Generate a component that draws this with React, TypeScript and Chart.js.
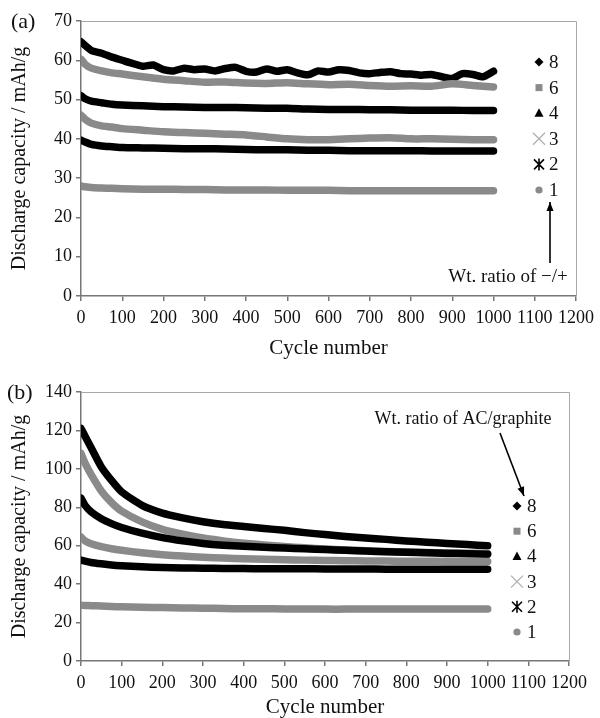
import React, { useEffect, useRef } from 'react';
import Chart from 'chart.js/auto';

// ---------- DATA ----------
const CYCLES = [0, 10, 25, 50, 75, 100, 150, 200, 250, 300, 350, 400, 450, 500, 550, 600, 650, 700, 750, 800, 850, 900, 950, 1000];
const CYCLES_FINE = [0, 25, 50, 75, 100, 125, 150, 175, 200, 225, 250, 275, 300, 325, 350, 375, 400, 425, 450, 475, 500, 525, 550, 575, 600, 625, 650, 675, 700, 725, 750, 775, 800, 825, 850, 875, 900, 925, 950, 975, 1000];

const LEGEND_LABELS = ['8', '6', '4', '3', '2', '1'];

// Panel (a): wt. ratio of -/+
const A_S8 = [64.7, 62.5, 61.8, 60.8, 60.0, 59.2, 58.5, 58.8, 57.6, 57.3, 58.0, 57.6, 57.8, 57.3, 57.9, 58.2, 57.2, 57.0, 57.8, 57.2, 57.6, 56.8, 56.3, 57.3, 57.0, 57.6, 57.4, 56.8, 56.6, 56.9, 57.1, 56.6, 56.5, 56.2, 56.4, 55.8, 55.4, 56.6, 56.4, 55.8, 57.2];
const A_S6 = [60.3, 59.0, 58.0, 57.3, 56.8, 56.5, 55.8, 55.2, 54.8, 54.4, 54.5, 54.2, 54.1, 54.3, 54.0, 53.8, 53.9, 53.6, 53.4, 53.5, 53.4, 54.0, 53.6, 53.2];
const A_S4 = [51.0, 50.2, 49.6, 49.2, 48.8, 48.6, 48.4, 48.2, 48.1, 48.0, 48.0, 47.9, 47.8, 47.8, 47.6, 47.5, 47.5, 47.4, 47.4, 47.3, 47.3, 47.3, 47.2, 47.2];
const A_S3 = [46.0, 45.0, 44.0, 43.3, 43.0, 42.6, 42.2, 41.8, 41.6, 41.4, 41.2, 41.0, 40.5, 40.0, 39.8, 39.8, 40.0, 40.2, 40.3, 40.0, 40.0, 39.9, 39.8, 39.8];
const A_S2 = [39.7, 39.2, 38.6, 38.2, 38.0, 37.8, 37.7, 37.6, 37.5, 37.5, 37.4, 37.3, 37.2, 37.2, 37.1, 37.1, 37.0, 37.0, 37.0, 37.0, 36.9, 36.9, 36.9, 36.9];
const A_S1 = [28.0, 27.8, 27.6, 27.5, 27.4, 27.3, 27.2, 27.2, 27.1, 27.1, 27.0, 27.0, 27.0, 26.9, 26.9, 26.9, 26.8, 26.8, 26.8, 26.8, 26.8, 26.8, 26.8, 26.8];

// Panel (b): wt. ratio of AC/graphite
const B_S8 = [121.0, 117.0, 111.0, 101.0, 94.0, 88.0, 81.0, 77.0, 74.5, 72.5, 71.0, 70.0, 69.0, 68.0, 66.8, 65.8, 64.8, 64.0, 63.3, 62.5, 61.8, 61.2, 60.6, 60.0];
const B_S6 = [108.0, 103.0, 97.0, 88.5, 82.5, 78.0, 72.4, 68.5, 66.0, 64.0, 62.5, 61.3, 60.4, 59.6, 58.9, 58.3, 57.8, 57.4, 57.0, 56.7, 56.5, 56.3, 56.1, 56.0];
const B_S4 = [84.8, 81.0, 77.6, 74.0, 71.5, 69.5, 66.5, 64.2, 62.5, 61.2, 60.3, 59.7, 59.2, 58.8, 58.4, 58.0, 57.6, 57.2, 56.9, 56.6, 56.3, 56.0, 55.8, 55.6];
const B_S3 = [64.5, 62.5, 61.0, 59.5, 58.4, 57.6, 56.3, 55.3, 54.6, 54.0, 53.6, 53.2, 52.9, 52.7, 52.5, 52.3, 52.2, 52.1, 52.0, 51.9, 51.9, 51.8, 51.8, 51.8];
const B_S2 = [52.5, 52.0, 51.3, 50.6, 50.0, 49.6, 49.0, 48.6, 48.4, 48.3, 48.2, 48.1, 48.0, 48.0, 48.0, 47.9, 47.9, 47.9, 47.8, 47.8, 47.8, 47.8, 47.8, 47.8];
const B_S1 = [29.0, 28.9, 28.8, 28.6, 28.4, 28.2, 28.0, 27.8, 27.6, 27.5, 27.3, 27.2, 27.2, 27.1, 27.1, 27.0, 27.0, 27.0, 27.0, 27.0, 27.0, 27.0, 27.0, 27.0];

// ---------- STYLE ----------
const BLACK = '#000000';
const GREY = '#8a8a8a';
const LIGHT = '#b0b0b0';
const SERIF = '"Liberation Serif", "Times New Roman", serif';
const SERIES_COLORS = [BLACK, GREY, BLACK, GREY, BLACK, GREY];
const MARKERS = ['diamond', 'square', 'triangle', 'cross', 'star', 'circle'];

function drawMarker(ctx: CanvasRenderingContext2D, kind: string, x: number, y: number) {
  ctx.save();
  ctx.beginPath();
  if (kind === 'diamond') {
    ctx.fillStyle = BLACK;
    ctx.moveTo(x, y - 4.5); ctx.lineTo(x + 4.5, y); ctx.lineTo(x, y + 4.5); ctx.lineTo(x - 4.5, y); ctx.closePath(); ctx.fill();
  } else if (kind === 'square') {
    ctx.fillStyle = GREY;
    ctx.fillRect(x - 3.5, y - 3.5, 7, 7);
  } else if (kind === 'triangle') {
    ctx.fillStyle = BLACK;
    ctx.moveTo(x, y - 5); ctx.lineTo(x + 4.5, y + 3.5); ctx.lineTo(x - 4.5, y + 3.5); ctx.closePath(); ctx.fill();
  } else if (kind === 'cross') {
    ctx.strokeStyle = LIGHT; ctx.lineWidth = 1.3;
    ctx.moveTo(x - 6, y - 6); ctx.lineTo(x + 6, y + 6); ctx.moveTo(x + 6, y - 6); ctx.lineTo(x - 6, y + 6); ctx.stroke();
  } else if (kind === 'star') {
    ctx.strokeStyle = BLACK; ctx.lineWidth = 1.6;
    ctx.moveTo(x - 5, y - 5); ctx.lineTo(x + 5, y + 5); ctx.moveTo(x + 5, y - 5); ctx.lineTo(x - 5, y + 5);
    ctx.moveTo(x, y - 6); ctx.lineTo(x, y + 6); ctx.stroke();
  } else {
    ctx.fillStyle = GREY;
    ctx.arc(x, y, 3.6, 0, Math.PI * 2); ctx.fill();
  }
  ctx.restore();
}

function drawArrow(ctx: CanvasRenderingContext2D, x1: number, y1: number, x2: number, y2: number) {
  ctx.save();
  ctx.strokeStyle = BLACK; ctx.fillStyle = BLACK; ctx.lineWidth = 1.6;
  ctx.beginPath(); ctx.moveTo(x1, y1); ctx.lineTo(x2, y2); ctx.stroke();
  const a = Math.atan2(y2 - y1, x2 - x1);
  const L = 9, W = 3.5;
  ctx.beginPath();
  ctx.moveTo(x2, y2);
  ctx.lineTo(x2 - L * Math.cos(a) + W * Math.sin(a), y2 - L * Math.sin(a) - W * Math.cos(a));
  ctx.lineTo(x2 - L * Math.cos(a) - W * Math.sin(a), y2 - L * Math.sin(a) + W * Math.cos(a));
  ctx.closePath(); ctx.fill();
  ctx.restore();
}

type PanelCfg = {
  height: number;
  plotTop: number;
  plotRight: number;
  plotBottom: number;
  yMax: number;
  yStep: number;
  series: { x: number[]; y: number[] }[];
  panelLabel: string;
  panelLabelX: number;
  legendMarkerX: number;
  legendTextX: number;
  legendY0: number;
  legendDy: number;
  note: string;
  noteX: number;
  noteY: number;
  noteSize: number;
  arrow: [number, number, number, number];
};

function Panel({ cfg, top }: { cfg: PanelCfg; top: number }) {
  const ref = useRef<HTMLCanvasElement | null>(null);
  useEffect(() => {
    if (!ref.current) return;
    const decor = {
      id: 'decor',
      afterDraw(chart: any) {
        const ctx: CanvasRenderingContext2D = chart.ctx;
        const { left, top: t, right, bottom } = chart.chartArea;
        ctx.save();
        ctx.strokeStyle = '#a8a8a8'; ctx.lineWidth = 1;
        ctx.beginPath(); ctx.moveTo(left, t + 0.5); ctx.lineTo(right + 0.5, t + 0.5); ctx.lineTo(right + 0.5, bottom); ctx.stroke();
        ctx.fillStyle = '#111'; ctx.font = `22px ${SERIF}`; ctx.textBaseline = 'middle'; ctx.textAlign = 'left';
        ctx.fillText(cfg.panelLabel, cfg.panelLabelX, t + 1);
        ctx.font = `19px ${SERIF}`;
        LEGEND_LABELS.forEach((lab, i) => {
          const y = cfg.legendY0 + i * cfg.legendDy;
          drawMarker(ctx, MARKERS[i], cfg.legendMarkerX, y);
          ctx.fillStyle = '#111';
          ctx.fillText(lab, cfg.legendTextX, y + 1);
        });
        ctx.font = `${cfg.noteSize}px ${SERIF}`; ctx.textAlign = 'center';
        ctx.fillText(cfg.note, cfg.noteX, cfg.noteY);
        const [x1, y1, x2, y2] = cfg.arrow;
        drawArrow(ctx, x1, y1, x2, y2);
        ctx.restore();
      },
    };
    const datasets = cfg.series.map((s, i) => ({
      label: LEGEND_LABELS[i],
      data: s.x.map((x, j) => ({ x, y: s.y[j] })),
      borderColor: SERIES_COLORS[i],
      backgroundColor: SERIES_COLORS[i],
      borderWidth: 7.5,
      pointRadius: 0,
      tension: 0.2,
      borderJoinStyle: 'round' as const,
      borderCapStyle: 'round' as const,
      order: 5 - i,
    }));
    const chart = new Chart(ref.current, {
      type: 'line',
      data: { datasets },
      options: {
        animation: false,
        responsive: false,
        maintainAspectRatio: false,
        layout: { padding: { left: 0, top: cfg.plotTop, right: 600 - cfg.plotRight, bottom: 0 } },
        plugins: { legend: { display: false }, tooltip: { enabled: false } },
        scales: {
          x: {
            type: 'linear', min: 0, max: 1200,
            afterFit: (s: any) => { s.height = cfg.height - cfg.plotBottom; },
            ticks: { stepSize: 100, color: '#111', font: { family: SERIF, size: 18 }, padding: 6, maxRotation: 0, autoSkip: false, callback: (v: any) => String(v) },
            grid: { display: true, drawOnChartArea: false, drawTicks: true, tickLength: 5, color: '#777', lineWidth: 1.5 },
            border: { display: true, color: '#777', width: 1.5 },
            title: { display: true, text: 'Cycle number', color: '#111', font: { family: SERIF, size: 21, lineHeight: 1 }, padding: { top: 0, bottom: 0 } },
          },
          y: {
            type: 'linear', min: 0, max: cfg.yMax,
            afterFit: (s: any) => { s.width = 81; },
            ticks: { stepSize: cfg.yStep, color: '#111', font: { family: SERIF, size: 18 }, padding: 4, callback: (v: any) => String(v) },
            grid: { display: true, drawOnChartArea: false, drawTicks: true, tickLength: 5, color: '#777', lineWidth: 1.5 },
            border: { display: true, color: '#777', width: 1.5 },
            title: { display: true, text: 'Discharge capacity / mAh/g', color: '#111', font: { family: SERIF, size: 20, lineHeight: 1 }, padding: { top: 10, bottom: 0 } },
          },
        },
      },
      plugins: [decor],
    } as any);
    return () => chart.destroy();
  }, [cfg]);
  return (
    <canvas
      ref={ref}
      width={600}
      height={cfg.height}
      style={{ position: 'absolute', left: 0, top, width: 600, height: cfg.height, display: 'block' }}
    />
  );
}

const PANEL_A: PanelCfg = {
  height: 359,
  plotTop: 21,
  plotRight: 578,
  plotBottom: 296,
  yMax: 70,
  yStep: 10,
  series: [
    { x: CYCLES_FINE, y: A_S8 },
    { x: CYCLES, y: A_S6 },
    { x: CYCLES, y: A_S4 },
    { x: CYCLES, y: A_S3 },
    { x: CYCLES, y: A_S2 },
    { x: CYCLES, y: A_S1 },
  ],
  panelLabel: '(a)',
  panelLabelX: 11,
  legendMarkerX: 539,
  legendTextX: 549,
  legendY0: 62,
  legendDy: 25.6,
  note: 'Wt. ratio of \u2212/+',
  noteX: 508,
  noteY: 277,
  noteSize: 19,
  arrow: [550, 263, 550, 202],
};

const PANEL_B: PanelCfg = {
  height: 359,
  plotTop: 33,
  plotRight: 569,
  plotBottom: 302,
  yMax: 140,
  yStep: 20,
  series: [
    { x: CYCLES, y: B_S8 },
    { x: CYCLES, y: B_S6 },
    { x: CYCLES, y: B_S4 },
    { x: CYCLES, y: B_S3 },
    { x: CYCLES, y: B_S2 },
    { x: CYCLES, y: B_S1 },
  ],
  panelLabel: '(b)',
  panelLabelX: 7,
  legendMarkerX: 517,
  legendTextX: 527,
  legendY0: 147,
  legendDy: 25.2,
  note: 'Wt. ratio of AC/graphite',
  noteX: 463,
  noteY: 60,
  noteSize: 18,
  arrow: [500, 74, 524, 137],
};

export default function App() {
  return (
    <div style={{ position: 'absolute', left: 0, top: 0, width: 600, height: 718, background: '#fff' }}>
      <Panel cfg={PANEL_A} top={0} />
      <Panel cfg={PANEL_B} top={359} />
    </div>
  );
}
